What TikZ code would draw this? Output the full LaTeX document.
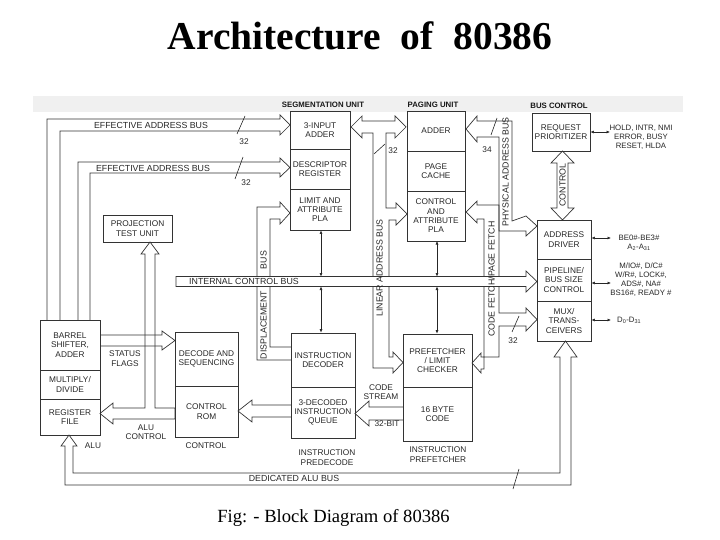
\documentclass[tikz,border=0pt]{standalone}
\usepackage{fontspec}
\setmainfont{Liberation Serif}
\newfontfamily\labfont{Liberation Sans}
\usetikzlibrary{arrows.meta}
\begin{document}
\begin{tikzpicture}[x=1pt,y=-1pt,
  ln/.style={draw=black!80, line width=0.7pt, line join=miter},
  blk/.style={ln, rectangle, inner sep=0pt, align=center, text=black!85, font={\labfont\fontsize{8.3}{9.3}\selectfont}},
  lbl/.style={inner sep=0pt, align=center, text=black!85, font={\labfont\fontsize{8.3}{9.3}\selectfont}},
  buslbl/.style={inner sep=0pt, align=center, text=black!85, font={\labfont\fontsize{8.8}{9.5}\selectfont}},
  sigl/.style={inner sep=0pt, align=center, text=black!85, font={\labfont\fontsize{7.8}{9.2}\selectfont}},
  hd/.style={inner sep=0pt, align=center, text=black!90, font={\labfont\bfseries\fontsize{7.8}{9}\selectfont}},
  sig/.style={draw=black!85, line width=0.6pt, {Latex[length=3.5pt,width=3pt]}-{Latex[length=3.5pt,width=3pt]}},
  slash/.style={draw=black!85, line width=0.6pt},
]
\useasboundingbox (0,0) rectangle (720,540);
\fill[black!6] (33,96) rectangle (683,112);

% title and caption
\node[anchor=base, inner sep=0pt, font={\fontsize{39.5}{44}\selectfont\bfseries}] (title) at (360,50) {Architecture\hspace{0.5em}of\hspace{0.5em}80386};
\node[anchor=base, inner sep=0pt, font={\fontsize{18.6}{22}\selectfont}] (caption) at (333.5,522) {Fig: - Block Diagram of 80386};

% unit headings
\node[hd] (seghd) at (323,105) {SEGMENTATION UNIT};
\node[hd] (pghd) at (433,105) {PAGING UNIT};
\node[hd] (bchd) at (559,106) {BUS CONTROL};

% ---------- buses (drawn under the boxes) ----------
% effective address bus 1
\draw[ln] (47,320) -- (47,119) -- (280,119) -- (280,115) -- (290,125) -- (280,135) -- (280,131) -- (60,131) -- (60,320);
% effective address bus 2
\draw[ln] (78,320) -- (78,162) -- (280,162) -- (280,158) -- (290,167.5) -- (280,177) -- (280,173) -- (90,173) -- (90,320);
% displacement bus
\draw[ln] (291,347) -- (270,347) -- (270,219) -- (280,219) -- (280,224) -- (290,213) -- (280,202) -- (280,207) -- (257,207) -- (257,360) -- (291,360);
% segmentation <-> paging, linear address bus
\draw[ln] (393,368) -- (373,368) -- (373,133) -- (362,133) -- (362,138) -- (351,127) -- (362,116) -- (362,121)
  -- (395,121) -- (395,116) -- (406,127) -- (395,138) -- (395,133) -- (386,133) -- (386,208) -- (396,208)
  -- (396,203) -- (407,214) -- (396,225) -- (396,220) -- (389,220) -- (389,357) -- (393,357) -- (393,352)
  -- (403,362.5) -- (393,373) -- cycle;
% physical address bus
\draw[ln] (512,221) -- (512,121) -- (477,121) -- (477,116) -- (466,129) -- (477,142) -- (477,137) -- (499,137)
  -- (499,231) -- (526,231) -- (526,236) -- (537,226) -- (526,216) -- cycle;
% code fetch / page fetch bus
\draw[ln] (466,212) -- (477,201) -- (477,205) -- (499,205) -- (499,313) -- (526,313) -- (526,308) -- (537,319.5)
  -- (526,331) -- (526,326) -- (499,326) -- (499,357) -- (481,357) -- (481,353) -- (472,363) -- (481,373)
  -- (481,369) -- (484,369) -- (484,219) -- (477,219) -- (477,223) -- cycle;
% internal control bus (over the vertical buses)
\draw[ln, fill=white] (176,276.5) -- (526,276.5) -- (526,271) -- (537,281.5) -- (526,292) -- (526,286.5) -- (176,286.5) -- cycle;
% status flags
\draw[ln] (100,335) -- (162,335) -- (162,331) -- (175,340.5) -- (162,350) -- (162,346) -- (100,346);
% projection test / ALU control
\draw[ln] (113,408) -- (145,408) -- (145,254) -- (141,254) -- (150,242) -- (159,254) -- (155,254) -- (155,408)
  -- (175,408) -- (175,419) -- (113,419) -- (113,424) -- (100,413.5) -- (113,403) -- cycle;
% instruction queue -> control ROM
\draw[ln] (291,405) -- (252,405) -- (252,400) -- (238,411) -- (252,422) -- (252,417) -- (291,417);
% code stream
\draw[ln] (403,407) -- (369,407) -- (369,401) -- (355,413.5) -- (369,426) -- (369,420) -- (403,420);
% control (bus control)
\draw[ln] (557,163) -- (551,163) -- (562.5,151) -- (574,163) -- (568,163) -- (568,208) -- (574,208) -- (562.5,220)
  -- (551,208) -- (557,208) -- cycle;
% dedicated ALU bus
\draw[ln] (560,357) -- (560,473) -- (73,473) -- (73,446) -- (77,446) -- (69,435) -- (61,446) -- (65,446)
  -- (65,485) -- (571,485) -- (571,357) -- (577,357) -- (565.5,341) -- (554,357) -- cycle;

% ---------- boxes ----------
\node[blk, minimum width=60pt, minimum height=38pt] (seg1) at (320,130) {3-INPUT\\ADDER};
\node[blk, minimum width=60pt, minimum height=40pt] (seg2) at (320,169) {DESCRIPTOR\\REGISTER};
\node[blk, minimum width=60pt, minimum height=41pt] (seg3) at (320,209.5) {LIMIT AND\\ATTRIBUTE\\PLA};
\node[blk, minimum width=58pt, minimum height=40pt] (pg1) at (436,131) {ADDER};
\node[blk, minimum width=58pt, minimum height=40pt] (pg2) at (436,171) {PAGE\\CACHE};
\node[blk, minimum width=58pt, minimum height=50pt] (pg3) at (436,216) {CONTROL\\AND\\ATTRIBUTE\\PLA};
\node[blk, minimum width=58pt, minimum height=38pt] (req) at (561,132) {REQUEST\\PRIORITIZER};
\node[blk, minimum width=54pt, minimum height=39pt] (ad) at (564,239.5) {ADDRESS\\DRIVER};
\node[blk, minimum width=54pt, minimum height=42pt] (pipe) at (564,280) {PIPELINE/\\BUS SIZE\\CONTROL};
\node[blk, minimum width=54pt, minimum height=40pt] (mux) at (564,321) {MUX/\\TRANS-\\CEIVERS};
\node[blk, minimum width=69pt, minimum height=27pt] (proj) at (137.5,228.5) {PROJECTION\\TEST UNIT};
\node[blk, minimum width=60pt, minimum height=50pt] (bar) at (70,345) {BARREL\\SHIFTER,\\ADDER};
\node[blk, minimum width=60pt, minimum height=29pt] (mul) at (70,384.5) {MULTIPLY/\\DIVIDE};
\node[blk, minimum width=60pt, minimum height=36pt] (reg) at (70,417) {REGISTER\\FILE};
\node[blk, minimum width=63pt, minimum height=54pt] (dec) at (206.5,359) {DECODE AND\\SEQUENCING};
\node[blk, minimum width=63pt, minimum height=51pt] (rom) at (206.5,411.5) {CONTROL\\ROM};
\node[blk, minimum width=64pt, minimum height=54pt] (idec) at (323,360) {INSTRUCTION\\DECODER};
\node[blk, minimum width=64pt, minimum height=51pt] (iq) at (323,412.5) {3-DECODED\\INSTRUCTION\\QUEUE};
\node[blk, minimum width=69pt, minimum height=53pt] (pf) at (437.5,360.5) {PREFETCHER\\/ LIMIT\\CHECKER};
\node[blk, minimum width=69pt, minimum height=54pt] (cb) at (437.5,414) {16 BYTE\\CODE};

% small bidirectional links to the internal control bus
\draw[sig] (seg3.south -| 321,0) -- (321,276.5);
\draw[sig] (321,286.5) -- (idec.north -| 321,0);
\draw[sig] (437,241) -- (437,276.5);
\draw[sig] (437,286.5) -- (pf.north -| 437,0);

% external signals
\draw[sig] (req.east) -- (610,132);
\draw[sig] (ad.east |- 0,238) -- (611,238);
\draw[sig] (pipe.east |- 0,283) -- (611,283);
\draw[sig] (mux.east |- 0,320) -- (611,320);
\node[sigl] (s1) at (641,137) {HOLD, INTR, NMI\\ERROR, BUSY\\RESET, HLDA};
\node[sigl] (s2) at (639,242.5) {BE0\#-BE3\#\\A\textsubscript{2}-A\textsubscript{31}};
\node[sigl] (s3) at (641,279.5) {M/IO\#, D/C\#\\W/R\#, LOCK\#,\\ADS\#, NA\#\\BS16\#, READY \#};
\node[sigl, anchor=west] (s4) at (617,320.5) {D\textsubscript{0}-D\textsubscript{31}};

% bus labels
\node[buslbl] (eab1) at (151,125) {EFFECTIVE ADDRESS BUS};
\node[buslbl] (eab2) at (153,168) {EFFECTIVE ADDRESS BUS};
\node[buslbl] (icb) at (244,281.5) {INTERNAL CONTROL BUS};
\node[buslbl, rotate=90] (dispa) at (263.5,260) {BUS};
\node[buslbl, rotate=90] (dispb) at (263.5,325) {DISPLACEMENT};
\node[buslbl, rotate=90] (lab) at (379.5,268) {LINEAR ADDRESS BUS};
\node[buslbl, rotate=90] (cfb) at (491.5,279) {CODE FETCH/PAGE FETCH};
\node[buslbl, rotate=90] (pab) at (505.5,172) {PHYSICAL ADDRESS BUS};
\node[buslbl, rotate=90] (ctl) at (562.5,185) {CONTROL};
\node[buslbl] (dab) at (294,478.5) {DEDICATED ALU BUS};
\node[lbl] (sf) at (125,358.5) {STATUS\\FLAGS};
\node[lbl] (aluc) at (146,432) {ALU\\CONTROL};
\node[lbl] (alu) at (93,446) {ALU};
\node[lbl] (ctrl) at (206,446) {CONTROL};
\node[lbl] (cs) at (381,392) {CODE\\STREAM};
\node[lbl] (b32) at (387,424) {32-BIT};
\node[lbl] (ipd) at (327,457.5) {INSTRUCTION\\PREDECODE};
\node[lbl] (ipf) at (438,454.5) {INSTRUCTION\\PREFETCHER};

% width marks
\draw[slash] (237,134) -- (245,116);
\node[lbl] (n1) at (244,142) {32};
\draw[slash] (235,179) -- (243,157);
\node[lbl] (n2) at (246,183) {32};
\draw[slash] (374,154) -- (385,144);
\node[lbl] (n3) at (393,151) {32};
\draw[slash] (491,135) -- (497,118);
\node[lbl] (n4) at (487,150) {34};
\draw[slash] (512,332) -- (519,316);
\node[lbl] (n5) at (513,341) {32};
\draw[slash] (513,489) -- (519,469);
\end{tikzpicture}
\end{document}
